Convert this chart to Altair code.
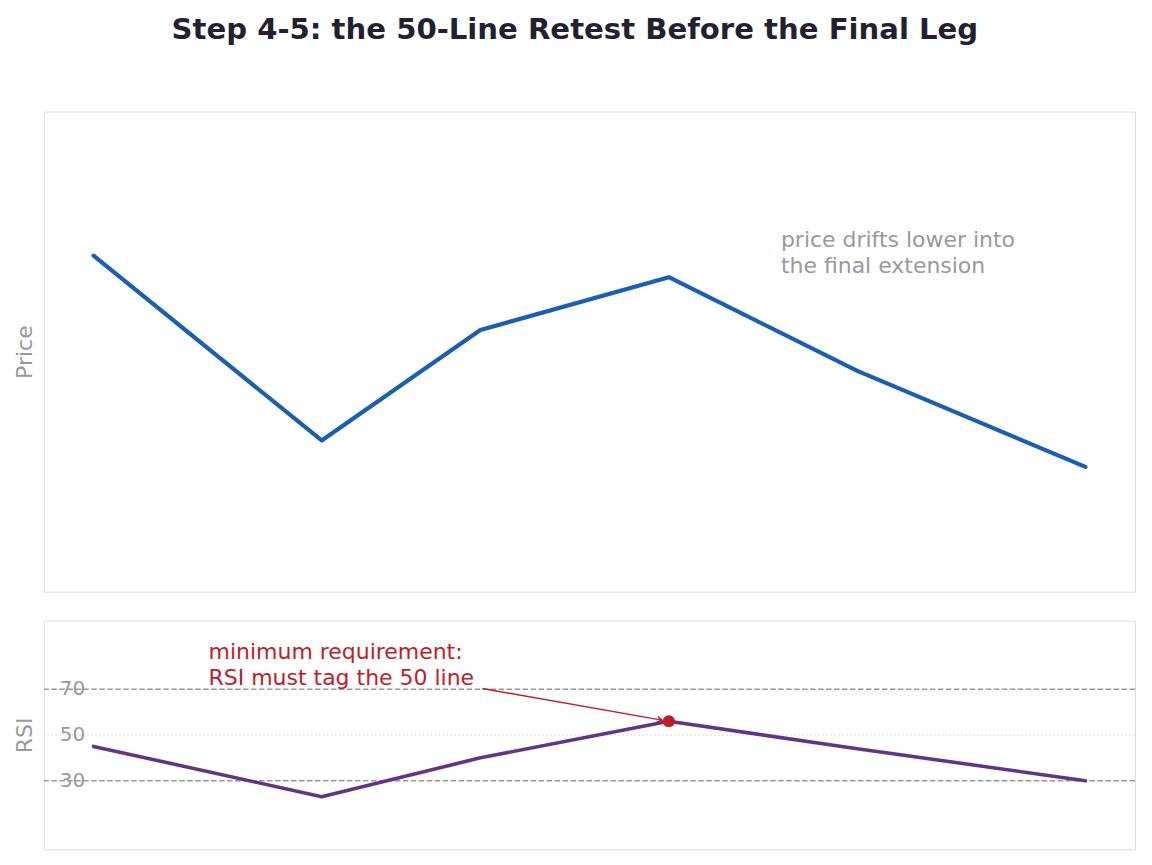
import math
import altair as alt
import pandas as pd

# Swing points shared by both panels (bar index)
bars = [0, 23, 39, 58, 77, 100]
price = [70, 31.5, 54.5, 65.5, 46, 26]
rsi = [45, 23, 40, 56, 44, 30]

# RSI reference levels
levels = [70, 50, 30]
level_labels = ["70", "50", "30"]

# The retest bar that has to touch the 50 line
tag_index = 3

TITLE = "Step 4-5: the 50-Line Retest Before the Final Leg"
PRICE_NOTE = ["price drifts lower into", "the final extension"]
RSI_NOTE = ["minimum requirement:", "RSI must tag the 50 line"]

BLUE = "#1a5fb4"
PURPLE = "#613583"
RED = "#c01c28"
GREY = "#999999"
FONT = "DejaVu Sans"

W = 1093
H_TOP = 481
H_BOT = 229
X_DOMAIN = [-5, 105]
PRICE_DOMAIN = [0, 100]
RSI_DOMAIN = [0, 100]

xs = alt.Scale(domain=X_DOMAIN, nice=False, zero=False)

df = pd.DataFrame({"bar": bars, "price": price, "rsi": rsi})

axis_style = dict(labels=False, ticks=False, domain=False, grid=False,
                  titleColor=GREY, titleFont=FONT, titleFontSize=22,
                  titleFontWeight="normal", titlePadding=7)

# ---------- price panel ----------
price_line = alt.Chart(df).mark_line(
    color=BLUE, strokeWidth=4.2, strokeJoin="round", strokeCap="round"
).encode(
    x=alt.X("bar:Q", scale=xs, axis=None),
    y=alt.Y("price:Q", scale=alt.Scale(domain=PRICE_DOMAIN, nice=False),
            axis=alt.Axis(title="Price", **axis_style)),
)

price_note = alt.Chart(pd.DataFrame({"x": [69.3], "y": [75.3], "t": [PRICE_NOTE]})).mark_text(
    align="left", baseline="top", color=GREY, font=FONT, fontSize=22, lineHeight=26
).encode(x=alt.X("x:Q", scale=xs), y=alt.Y("y:Q"), text="t")

top = alt.layer(price_line, price_note).properties(width=W, height=H_TOP)

# ---------- RSI panel ----------
lv = pd.DataFrame({"level": levels, "label": level_labels,
                   "dash": ["dash", "dot", "dash"]})

ry = alt.Scale(domain=RSI_DOMAIN, nice=False)

dashed = alt.Chart(lv[lv["dash"] == "dash"]).mark_rule(
    color=GREY, strokeWidth=1.5, strokeDash=[5.5, 2.5]
).encode(y=alt.Y("level:Q", scale=ry))

dotted = alt.Chart(lv[lv["dash"] == "dot"]).mark_rule(
    color="#cccccc", strokeWidth=1.2, strokeDash=[1.5, 2.5]
).encode(y=alt.Y("level:Q", scale=ry))

level_text = alt.Chart(lv).mark_text(
    align="center", baseline="middle", color=GREY, font=FONT, fontSize=20
).encode(x=alt.value(28.5), y=alt.Y("level:Q", scale=ry), text="label")

rsi_line = alt.Chart(df).mark_line(
    color=PURPLE, strokeWidth=3.6, strokeJoin="round", strokeCap="round"
).encode(
    x=alt.X("bar:Q", scale=xs, axis=None),
    y=alt.Y("rsi:Q", scale=ry, axis=alt.Axis(title="RSI", **axis_style)),
)

tag = df.iloc[[tag_index]]
tag_dot = alt.Chart(tag).mark_point(
    shape="circle", filled=True, color=RED, size=150, opacity=1
).encode(x=alt.X("bar:Q", scale=xs), y=alt.Y("rsi:Q", scale=ry))

# arrow from the note to the tagged bar
px_x = W / (X_DOMAIN[1] - X_DOMAIN[0])
px_y = H_BOT / (RSI_DOMAIN[1] - RSI_DOMAIN[0])
start_x, start_y = 39.2, 70.3
tip_x = bars[tag_index] - 0.7
tip_y = rsi[tag_index] + 0.5
ang = math.degrees(math.atan2((start_y - tip_y) * px_y, (tip_x - start_x) * px_x))

arrow_df = pd.DataFrame({"x": [start_x], "y": [start_y], "x2": [tip_x], "y2": [tip_y]})
arrow_shaft = alt.Chart(arrow_df).mark_rule(color=RED, strokeWidth=1.5).encode(
    x=alt.X("x:Q", scale=xs), y=alt.Y("y:Q", scale=ry), x2="x2:Q", y2="y2:Q"
)
arrow_head = alt.Chart(pd.DataFrame({"x": [tip_x], "y": [tip_y]})).mark_point(
    shape="M -1 -0.6 L 0 0 L -1 0.6", filled=False, color=RED, strokeWidth=1.5,
    size=90, angle=ang, opacity=1
).encode(x=alt.X("x:Q", scale=xs), y=alt.Y("y:Q", scale=ry))

rsi_note = alt.Chart(pd.DataFrame({"x": [11.6], "y": [90.8], "t": [RSI_NOTE]})).mark_text(
    align="left", baseline="top", color=RED, font=FONT, fontSize=22, lineHeight=26
).encode(x=alt.X("x:Q", scale=xs), y=alt.Y("y:Q", scale=ry), text="t")

bottom = alt.layer(dashed, dotted, level_text, rsi_line, arrow_shaft, arrow_head,
                   tag_dot, rsi_note).properties(width=W, height=H_BOT)

chart = alt.vconcat(top, bottom, spacing=27).properties(
    title=alt.Title(TITLE, fontSize=29.2, font=FONT, fontWeight="bold",
                    color="#241f31", anchor="middle", offset=66),
    padding={"left": 13, "top": 15, "right": 15, "bottom": 15},
).configure_view(
    stroke="#dddddd", strokeWidth=2
).configure(background="white")

chart.save("out.html", embed_options={"renderer": "svg", "actions": False})
